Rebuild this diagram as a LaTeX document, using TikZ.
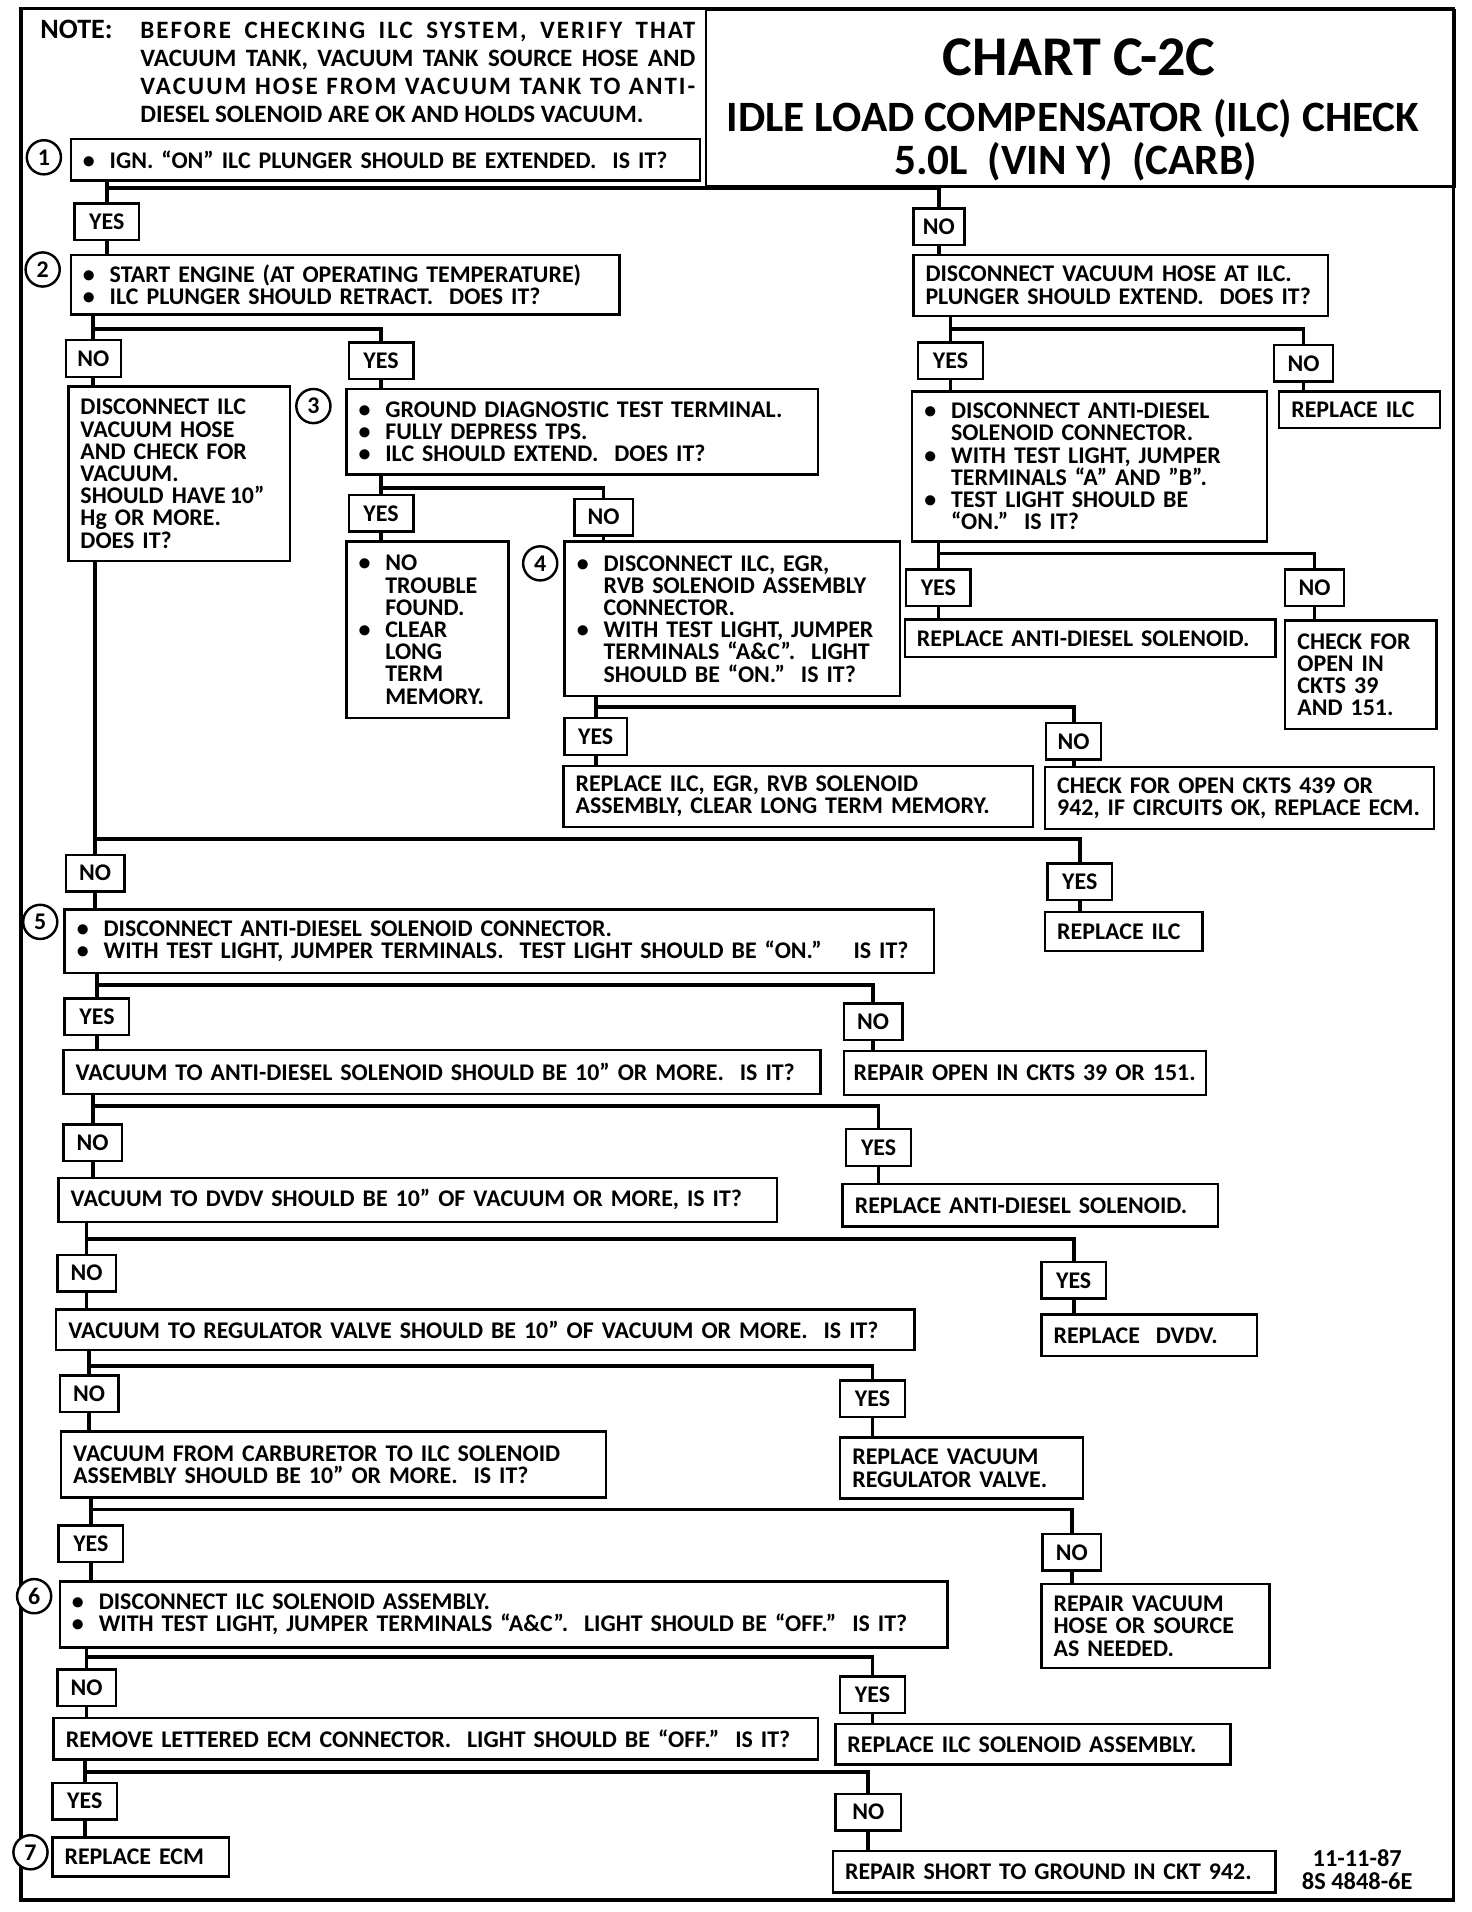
\documentclass[tikz,border=0pt]{standalone}
\usepackage{fontspec}
\setmainfont{Carlito}
\usetikzlibrary{positioning, calc}
\newcommand\chartfont{\fontsize{19.6}{18.2}\selectfont\bfseries}
\newcommand\notefont{\fontsize{20.5}{23}\selectfont\bfseries}
\newcommand\bul{\makebox[22pt][l]{•}}
\newcommand\ind{\hspace*{22pt}}
\newcommand\spreadline[1]{\makebox[455pt][s]{#1}}

\begin{document}
\begin{tikzpicture}[x=1pt, y=-1pt,
  every node/.style={font=\chartfont},
  box/.style={draw, line width=2pt, anchor=north west, align=left, inner xsep=10pt, inner ysep=2pt},
  tag/.style={draw, line width=2pt, anchor=north west, minimum height=30pt, inner sep=0pt},
  yes/.style={tag, minimum width=53pt},
  no/.style={tag, minimum width=48pt},
  num/.style={draw, circle, line width=2pt, fill=white, minimum size=28pt, inner sep=0pt},
  link/.style={line width=3pt},
  frame/.style={line width=3pt}
]
\useasboundingbox (0,0) rectangle (1207,1568);
\draw[frame] (17,7) rectangle (1192,1558);

% header
\node[draw, line width=2pt, anchor=north west, minimum width=614pt, minimum height=145pt] (title) at (578,7) {};
\node[font=\fontsize{46}{50}\selectfont\bfseries] (ttl1) at (885,47) {CHART C-2C};
\node[font=\fontsize{35.5}{40}\selectfont\bfseries] (ttl2) at (880,97) {IDLE LOAD COMPENSATOR (ILC) CHECK};
\node[font=\fontsize{35.5}{40}\selectfont\bfseries] (ttl3) at (882,133) {5.0L~ (VIN Y)~ (CARB)};
\node[anchor=north west, inner sep=0pt, font=\fontsize{23}{25}\selectfont\bfseries] (notelbl) at (33,16) {NOTE:};
\node[anchor=north west, inner sep=0pt, align=left, font=\notefont] (note) at (115,18)
  {\spreadline{\addfontfeature{LetterSpace=8}BEFORE CHECKING ILC SYSTEM, VERIFY THAT}\\
   \spreadline{VACUUM TANK, VACUUM TANK SOURCE HOSE AND}\\
   \spreadline{\addfontfeature{LetterSpace=8}VACUUM HOSE FROM VACUUM TANK TO ANTI-}\\
   DIESEL SOLENOID ARE OK AND HOLDS VACUUM.};

% step 1
\node[num] (c1) at (36,129) {1};
\node[box, text width=496pt, minimum height=34pt] (b1) at (57,113) {\bul IGN. “ON” ILC PLUNGER SHOULD BE EXTENDED.~ IS IT?};
\node[yes] (y1) at (60,166) {YES};
\node[no, minimum width=42pt] (n1) at (748,170) {NO};

% step 2
\node[num] (c2) at (35,221) {2};
\node[box, text width=430pt, minimum height=49pt] (b2) at (57,208) {\bul START ENGINE (AT OPERATING TEMPERATURE)\\ \bul ILC PLUNGER SHOULD RETRACT.~ DOES IT?};
\node[box, text width=320pt, minimum height=50pt] (r2) at (748,208) {DISCONNECT VACUUM HOSE AT ILC.\\ PLUNGER SHOULD EXTEND.~ DOES IT?};
\node[no, minimum width=45pt] (n2) at (53,278) {NO};
\node[yes] (y2) at (285,280) {YES};
\node[yes] (yr2) at (752,280) {YES};
\node[no] (nr2) at (1044,282) {NO};

\node[box, text width=162pt, minimum height=143pt] (v2) at (55,316) {DISCONNECT ILC\\ VACUUM HOSE\\ AND CHECK FOR\\ VACUUM.\\ SHOULD HAVE\,10”\\ Hg OR MORE.\\ DOES IT?};

% step 3
\node[num] (c3) at (257,333) {3};
\node[box, text width=367pt, minimum height=70pt] (b3) at (283,318) {\bul GROUND DIAGNOSTIC TEST TERMINAL.\\ \bul FULLY DEPRESS TPS.\\ \bul ILC SHOULD EXTEND.~ DOES IT?};
\node[box, text width=112pt, minimum height=30pt] (repilc1) at (1048,320) {REPLACE ILC};
\node[box, text width=271pt, minimum height=123pt] (ad) at (747,320) {\bul DISCONNECT ANTI-DIESEL\\ \ind SOLENOID CONNECTOR.\\ \bul WITH TEST LIGHT, JUMPER\\ \ind TERMINALS “A” AND ”B”.\\ \bul TEST LIGHT SHOULD BE\\ \ind “ON.”~ IS IT?};
\node[yes] (y3) at (285,405) {YES};
\node[no] (n3) at (470,408) {NO};

\node[box, text width=113pt, minimum height=145pt] (ntf) at (283,443) {\bul NO\\ \ind TROUBLE\\ \ind FOUND.\\ \bul CLEAR\\ \ind LONG\\ \ind TERM\\ \ind MEMORY.};

% step 4
\node[num] (c4) at (443,462) {4};
\node[box, text width=255pt, minimum height=127pt] (b4) at (462,443) {\bul DISCONNECT ILC, EGR,\\ \ind RVB SOLENOID ASSEMBLY\\ \ind CONNECTOR.\\ \bul WITH TEST LIGHT, JUMPER\\ \ind TERMINALS “A\&C”.~ LIGHT\\ \ind SHOULD BE “ON.”~ IS IT?};
\node[yes] (yad) at (742,466) {YES};
\node[no] (nad) at (1053,466) {NO};
\node[box, text width=284pt, minimum height=31pt] (repad) at (741,507) {REPLACE ANTI-DIESEL SOLENOID.};
\node[box, text width=104pt, minimum height=89pt] (chk39) at (1053,508) {CHECK FOR\\ OPEN IN\\ CKTS 39\\ AND 151.};
\node[yes, minimum width=51pt] (y4) at (462,588) {YES};
\node[no, minimum width=45pt] (n4) at (857,592) {NO};
\node[box, text width=365pt, minimum height=50pt] (rep4) at (461,627) {REPLACE ILC, EGR, RVB SOLENOID\\ ASSEMBLY, CLEAR LONG TERM MEMORY.};
\node[box, text width=299pt, minimum height=51pt] (chk4) at (856,628) {CHECK FOR OPEN CKTS 439 OR\\ 942, IF CIRCUITS OK, REPLACE ECM.};

% step 5
\node[no] (n5) at (53,700) {NO};
\node[yes] (y5r) at (858,707) {YES};
\node[box, text width=109pt, minimum height=32pt] (repilc2) at (856,747) {REPLACE ILC};
\node[num] (c5) at (33,756) {5};
\node[box, text width=693pt, minimum height=52pt] (b5) at (52,745) {\bul DISCONNECT ANTI-DIESEL SOLENOID CONNECTOR.\\ \bul WITH TEST LIGHT, JUMPER TERMINALS.~ TEST LIGHT SHOULD BE “ON.”~ ~ IS IT?};
\node[yes] (y6) at (52,818) {YES};
\node[no] (n6) at (691,822) {NO};
\node[box, text width=601pt, minimum height=36pt] (v6) at (51,860) {VACUUM TO ANTI-DIESEL SOLENOID SHOULD BE 10” OR MORE.~ IS IT?};
\node[box, inner xsep=8pt, text width=281pt, minimum height=36pt] (rep39) at (691,861) {REPAIR OPEN IN CKTS 39 OR 151.};
\node[no] (n7) at (51,921) {NO};
\node[yes] (y7) at (693,925) {YES};
\node[box, text width=569pt, minimum height=36pt] (v7) at (47,965) {VACUUM TO DVDV SHOULD BE 10” OF VACUUM OR MORE, IS IT?};
\node[box, text width=288pt, minimum height=35pt] (repad2) at (690,970) {REPLACE ANTI-DIESEL SOLENOID.};
\node[no] (n8) at (46,1028) {NO};
\node[yes] (y8) at (853,1034) {YES};
\node[box, text width=684pt, minimum height=33pt] (v8) at (45,1073) {VACUUM TO REGULATOR VALVE SHOULD BE 10” OF VACUUM OR MORE.~ IS IT?};
\node[box, text width=157pt, minimum height=34pt] (repdv) at (853,1077) {REPLACE~ DVDV.};
\node[no] (n9) at (48,1127) {NO};
\node[yes] (y9) at (688,1131) {YES};
\node[box, text width=427pt, minimum height=54pt] (v9) at (49,1173) {VACUUM FROM CARBURETOR TO ILC SOLENOID\\ ASSEMBLY SHOULD BE 10” OR MORE.~ IS IT?};
\node[box, text width=179pt, minimum height=50pt] (repvr) at (688,1178) {REPLACE VACUUM\\ REGULATOR VALVE.};
\node[yes] (y10) at (47,1250) {YES};
\node[no] (n10) at (854,1257) {NO};

% step 6
\node[num] (c6) at (28,1309) {6};
\node[box, text width=708pt, minimum height=54pt] (b6) at (48,1296) {\bul DISCONNECT ILC SOLENOID ASSEMBLY.\\ \bul WITH TEST LIGHT, JUMPER TERMINALS “A\&C”.~ LIGHT SHOULD BE “OFF.”~ IS IT?};
\node[box, text width=167pt, minimum height=69pt] (rephose) at (853,1298) {REPAIR VACUUM\\ HOSE OR SOURCE\\ AS NEEDED.};
\node[no] (n11) at (46,1368) {NO};
\node[yes] (y11) at (688,1374) {YES};
\node[box, text width=607pt, minimum height=34pt] (ecm) at (43,1408) {REMOVE LETTERED ECM CONNECTOR.~ LIGHT SHOULD BE “OFF.”~ IS IT?};
\node[box, text width=304pt, minimum height=33pt] (repsol) at (684,1413) {REPLACE ILC SOLENOID ASSEMBLY.};
\node[yes] (y12) at (42,1461) {YES};
\node[no, minimum width=54pt] (n12) at (684,1470) {NO};

% step 7
\node[num] (c7) at (25,1519) {7};
\node[box, text width=125pt, minimum height=32pt] (b7) at (42,1506) {REPLACE ECM};
\node[box, text width=343pt, minimum height=34pt] (short) at (682,1517) {REPAIR SHORT TO GROUND IN CKT 942.};
\node[align=center, font=\fontsize{20}{19}\selectfont\bfseries] (date) at (1113,1533) {11-11-87\\8S 4848-6E};

% branches
\path (b1.south -| y1) ++(0,5) coordinate (j1);
\draw[link] (b1.south -| y1) -- (y1.north);
\draw[link] (j1) -| (n1.north);
\draw[link] (y1.south) -- (y1.south |- b2.north);
\draw[link] (n1.south) -- (n1.south |- r2.north);

\path (b2.south -| n2) ++(0,11) coordinate (j2);
\draw[link] (b2.south -| n2) -- (n2.north);
\draw[link] (j2) -| (y2.north);
\draw[link] (n2.south) -- (n2.south |- v2.north);
\draw[link] (y2.south) -- (y2.south |- b3.north);

\path (r2.south -| yr2) ++(0,10) coordinate (jr2);
\draw[link] (r2.south -| yr2) -- (yr2.north);
\draw[link] (jr2) -| (nr2.north);
\draw[link] (yr2.south) -- (yr2.south |- ad.north);
\draw[link] (nr2.south) -- (nr2.south |- repilc1.north);

\path (b3.south -| y3) ++(0,10) coordinate (j3);
\draw[link] (b3.south -| y3) -- (y3.north);
\draw[link] (j3) -| (n3.north);
\draw[link] (y3.south) -- (y3.south |- ntf.north);
\draw[link] (n3.south) -- (n3.south |- b4.north);

\path (ad.south -| yad) ++(0,9) coordinate (jad);
\draw[link] (ad.south -| yad) -- (yad.north);
\draw[link] (jad) -| (nad.north);
\draw[link] (yad.south) -- (yad.south |- repad.north);
\draw[link] (nad.south) -- (nad.south |- chk39.north);

\path (b4.south -| y4) ++(0,8) coordinate (j4);
\draw[link] (b4.south -| y4) -- (y4.north);
\draw[link] (j4) -| (n4.north);
\draw[link] (y4.south) -- (y4.south |- rep4.north);
\draw[link] (n4.south) -- (n4.south |- chk4.north);

\path (n5.north) ++(0,-12) coordinate (j5);
\draw[link] (v2.south -| n5) -- (n5.north);
\draw[link] (j5) -| (y5r.north);
\draw[link] (n5.south) -- (n5.south |- b5.north);
\draw[link] (y5r.south) -- (y5r.south |- repilc2.north);

\path (b5.south -| y6) ++(0,9) coordinate (j6);
\draw[link] (b5.south -| y6) -- (y6.north);
\draw[link] (j6) -| (n6.north);
\draw[link] (y6.south) -- (y6.south |- v6.north);
\draw[link] (n6.south) -- (n6.south |- rep39.north);

\path (v6.south -| n7) ++(0,9) coordinate (j7);
\draw[link] (v6.south -| n7) -- (n7.north);
\draw[link] (j7) -| (y7.north);
\draw[link] (n7.south) -- (n7.south |- v7.north);
\draw[link] (y7.south) -- (y7.south |- repad2.north);

\path (v7.south -| n8) ++(0,13) coordinate (j8);
\draw[link] (v7.south -| n8) -- (n8.north);
\draw[link] (j8) -| (y8.north);
\draw[link] (n8.south) -- (n8.south |- v8.north);
\draw[link] (y8.south) -- (y8.south |- repdv.north);

\path (v8.south -| n9) ++(0,12) coordinate (j9);
\draw[link] (v8.south -| n9) -- (n9.north);
\draw[link] (j9) -| (y9.north);
\draw[link] (n9.south) -- (n9.south |- v9.north);
\draw[link] (y9.south) -- (y9.south |- repvr.north);

\path (v9.south -| y10) ++(0,9) coordinate (j10);
\draw[link] (v9.south -| y10) -- (y10.north);
\draw[link] (j10) -| (n10.north);
\draw[link] (y10.south) -- (y10.south |- b6.north);
\draw[link] (n10.south) -- (n10.south |- rephose.north);

\path (b6.south -| n11) ++(0,7) coordinate (j11);
\draw[link] (b6.south -| n11) -- (n11.north);
\draw[link] (j11) -| (y11.north);
\draw[link] (n11.south) -- (n11.south |- ecm.north);
\draw[link] (y11.south) -- (y11.south |- repsol.north);

\path (ecm.south -| y12) ++(0,9) coordinate (j12);
\draw[link] (ecm.south -| y12) -- (y12.north);
\draw[link] (j12) -| (n12.north);
\draw[link] (y12.south) -- (y12.south |- b7.north);
\draw[link] (n12.south) -- (n12.south |- short.north);
\end{tikzpicture}
\end{document}
